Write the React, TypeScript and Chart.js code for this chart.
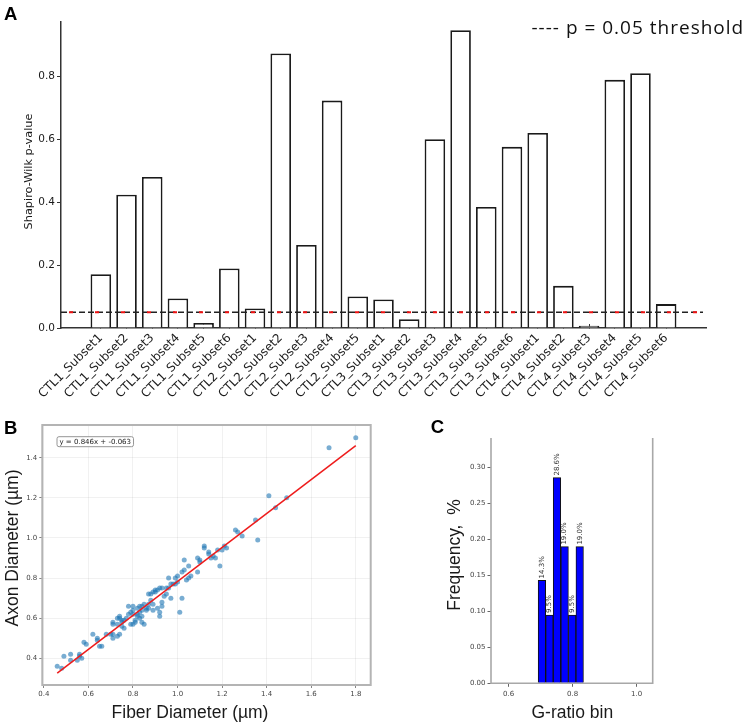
import { useEffect, useRef } from 'react';
import { Chart, registerables } from 'chart.js';

Chart.register(...registerables);

// ---- Panel A: Shapiro-Wilk normality test per subset ----
const SUBSETS = [
  'CTL1_Subset1', 'CTL1_Subset2', 'CTL1_Subset3', 'CTL1_Subset4', 'CTL1_Subset5', 'CTL1_Subset6',
  'CTL2_Subset1', 'CTL2_Subset2', 'CTL2_Subset3', 'CTL2_Subset4', 'CTL2_Subset5',
  'CTL3_Subset1', 'CTL3_Subset2', 'CTL3_Subset3', 'CTL3_Subset4', 'CTL3_Subset5', 'CTL3_Subset6',
  'CTL4_Subset1', 'CTL4_Subset2', 'CTL4_Subset3', 'CTL4_Subset4', 'CTL4_Subset5', 'CTL4_Subset6',
];
const P_VALUES = [
  0.171, 0.424, 0.48, 0.094, 0.016, 0.189,
  0.062, 0.873, 0.264, 0.723, 0.1,
  0.091, 0.028, 0.6, 0.947, 0.385, 0.576,
  0.62, 0.134, 0.007, 0.789, 0.81, 0.076,
];
const P_TICKS = [0, 0.2, 0.4, 0.6, 0.8];
const THRESHOLD = 0.05;

// ---- Panel B: axon vs fiber diameter ----
const FIBER_DIAMETER = [
  0.46, 0.48, 0.49, 0.52, 0.52, 0.55, 0.56, 0.56, 0.57, 0.58, 0.59, 0.62, 0.64, 0.64, 0.65, 0.66,
  0.68, 0.71, 0.71, 0.71, 0.71, 0.73, 0.74, 0.73, 0.74, 0.75, 0.75, 0.73, 0.75, 0.76, 0.77, 0.78,
  0.79, 0.8, 0.8, 0.79, 0.8, 0.81, 0.81, 0.82, 0.82, 0.83, 0.84, 0.84, 0.85, 0.84, 0.84, 0.85,
  0.86, 0.86, 0.87, 0.88, 0.87, 0.88, 0.89, 0.9, 0.91, 0.92, 0.93, 0.95, 0.89, 0.89, 0.91, 0.92,
  0.92, 0.93, 0.93, 0.95, 0.94, 0.96, 0.96, 0.97, 0.98, 0.99, 1.0, 1.01, 1.02, 0.97, 1.02, 1.03,
  1.03, 1.04, 1.05, 1.05, 1.06, 1.09, 1.09, 1.1, 1.1, 1.12, 1.12, 1.14, 1.14, 1.15, 1.16, 1.17,
  1.18, 1.19, 1.2, 1.21, 1.22, 1.26, 1.27, 1.29, 1.35, 1.36, 1.41, 1.44, 1.49, 1.68, 1.8,
  0.8, 0.82, 0.83, 0.78, 0.76, 0.74, 0.9, 0.99, 1.0, 0.87, 0.7, 0.83,
];
const AXON_DIAMETER = [
  0.36, 0.35, 0.41, 0.42, 0.39, 0.39, 0.42, 0.41, 0.4, 0.48, 0.47, 0.52, 0.5, 0.49, 0.46, 0.46,
  0.52, 0.5, 0.52, 0.58, 0.57, 0.51, 0.52, 0.6, 0.61, 0.59, 0.58, 0.57, 0.56, 0.55, 0.6, 0.66,
  0.63, 0.66, 0.62, 0.57, 0.57, 0.58, 0.59, 0.61, 0.62, 0.63, 0.64, 0.66, 0.67, 0.61, 0.58, 0.57,
  0.64, 0.65, 0.67, 0.69, 0.72, 0.72, 0.73, 0.74, 0.74, 0.75, 0.75, 0.75, 0.67, 0.64, 0.65, 0.63,
  0.61, 0.66, 0.68, 0.72, 0.71, 0.8, 0.75, 0.77, 0.77, 0.77, 0.81, 0.63, 0.7, 0.7, 0.83, 0.84,
  0.89, 0.79, 0.8, 0.86, 0.81, 0.83, 0.9, 0.88, 0.89, 0.96, 0.95, 0.93, 0.92, 0.9, 0.91, 0.9,
  0.94, 0.86, 0.94, 0.96, 0.95, 1.04, 1.03, 1.01, 1.09, 0.99, 1.21, 1.15, 1.2, 1.45, 1.5,
  0.64, 0.65, 0.6, 0.62, 0.59, 0.6, 0.73, 0.8, 0.78, 0.65, 0.52, 0.66,
];
const FIT_SLOPE = 0.846;
const FIT_INTERCEPT = -0.063;
const FIT_X = [0.46, 1.8];
const DIAM_X_TICKS = [0.4, 0.6, 0.8, 1.0, 1.2, 1.4, 1.6, 1.8];
const DIAM_Y_TICKS = [0.4, 0.6, 0.8, 1.0, 1.2, 1.4];

// ---- Panel C: g-ratio histogram ----
const GRATIO_BIN_EDGES = [0.692, 0.716, 0.739, 0.763, 0.787, 0.81, 0.834];
const GRATIO_FREQ = [0.143, 0.095, 0.286, 0.19, 0.095, 0.19];
const GRATIO_X_TICKS = [0.6, 0.8, 1.0];
const FREQ_TICKS = [0, 0.05, 0.1, 0.15, 0.2, 0.25, 0.3];

interface TextMark {
  text: string;
  x: number;
  y: number;
  size: number;
  family?: string;
  weight?: string;
  color?: string;
  angle?: number;
  align?: CanvasTextAlign;
  baseline?: CanvasTextBaseline;
  spacing?: number;
}

function textLayer(id: string, marks: TextMark[]) {
  return {
    id,
    afterDraw(chart: Chart) {
      const ctx = chart.ctx;
      for (const m of marks) {
        ctx.save();
        ctx.font = `${m.weight ?? 'normal'} ${m.size}px ${m.family ?? '"Liberation Sans"'}`;
        ctx.fillStyle = m.color ?? '#111';
        ctx.textAlign = m.align ?? 'center';
        ctx.textBaseline = m.baseline ?? 'middle';
        if (m.spacing) (ctx as any).letterSpacing = `${m.spacing}px`;
        ctx.translate(m.x, m.y);
        if (m.angle) ctx.rotate(m.angle);
        ctx.fillText(m.text, 0, 0);
        ctx.restore();
      }
    },
  };
}

const setTicks = (values: number[]) => (scale: any) => {
  scale.ticks = values.map((value) => ({ value }));
};

function makePanelA(canvas: HTMLCanvasElement) {
  const thresholdLine = {
    id: 'thresholdLine',
    afterDatasetsDraw(chart: Chart) {
      const { ctx, chartArea } = chart;
      const y = chart.scales.y.getPixelForValue(THRESHOLD);
      ctx.save();
      ctx.beginPath();
      ctx.moveTo(chartArea.left, y);
      ctx.lineTo(chartArea.right - 3, y);
      ctx.lineWidth = 1.5;
      ctx.strokeStyle = '#222';
      ctx.setLineDash([6, 3]);
      ctx.stroke();
      ctx.lineWidth = 2;
      ctx.strokeStyle = '#ee1111';
      ctx.setLineDash([4, 22]);
      ctx.lineDashOffset = -8;
      ctx.stroke();
      ctx.restore();
    },
  };
  return new Chart(canvas, {
    type: 'bar',
    data: {
      datasets: [
        {
          data: P_VALUES.map((p, i) => ({ x: i, y: p })),
          backgroundColor: '#ffffff',
          borderColor: '#1a1a1a',
          borderWidth: 1.8,
          barPercentage: 0.8,
          categoryPercentage: 1,
        },
      ],
    },
    options: {
      responsive: false,
      animation: false,
      layout: { padding: { left: 0, top: 22, right: 44, bottom: 0 } },
      plugins: { legend: { display: false }, tooltip: { enabled: false } },
      scales: {
        x: {
          type: 'linear',
          min: -1.55,
          max: 23.55,
          offset: false,
          afterBuildTicks: setTicks(SUBSETS.map((_, i) => i)),
          afterFit: (s: any) => {
            s.height = 102;
          },
          ticks: {
            autoSkip: false,
            minRotation: 45,
            maxRotation: 45,
            padding: 7,
            color: '#1a1a1a',
            font: { family: 'DejaVu Sans', size: 12 },
            callback: (v: any) => SUBSETS[Math.round(Number(v))] ?? '',
          },
          grid: { drawOnChartArea: false, offset: false, tickLength: -4, color: '#333', tickColor: '#333' },
          border: { color: '#333', width: 1.5 },
        },
        y: {
          min: 0,
          max: 0.973,
          afterBuildTicks: setTicks(P_TICKS),
          afterFit: (s: any) => {
            s.width = 61;
          },
          ticks: {
            padding: 2,
            color: '#1a1a1a',
            font: { family: 'DejaVu Sans', size: 10.5 },
            callback: (v: any) => Number(v).toFixed(1),
          },
          grid: { drawOnChartArea: false, tickLength: 4, color: '#333', tickColor: '#333' },
          border: { color: '#333', width: 1.5 },
        },
      },
    },
    plugins: [
      thresholdLine,
      textLayer('labelsA', [
        { text: 'A', x: 4, y: 20, size: 18.5, weight: 'bold', align: 'left', baseline: 'alphabetic', color: '#000' },
        {
          text: '---- p = 0.05 threshold',
          x: 531.5,
          y: 33.5,
          size: 19,
          family: '"Open Sans"',
          align: 'left',
          baseline: 'alphabetic',
          spacing: 1,
          color: '#111',
        },
        {
          text: 'Shapiro-Wilk p-value',
          x: 29,
          y: 171.5,
          size: 11.3,
          family: '"DejaVu Sans"',
          angle: -Math.PI / 2,
          color: '#1a1a1a',
        },
      ]),
    ],
  } as any);
}

function makePanelB(canvas: HTMLCanvasElement) {
  const frame = {
    id: 'frameB',
    afterDraw(chart: Chart) {
      const { ctx, chartArea } = chart;
      ctx.save();
      ctx.strokeStyle = '#b4b4b4';
      ctx.lineWidth = 2;
      ctx.strokeRect(chartArea.left, chartArea.top, chartArea.right - chartArea.left, chartArea.bottom - chartArea.top);
      // regression equation box
      const text = `y = ${FIT_SLOPE.toFixed(3)}x + ${FIT_INTERCEPT.toFixed(3)}`;
      ctx.font = '7px "DejaVu Sans"';
      const w = ctx.measureText(text).width;
      const bx = chartArea.left + 14.7;
      const by = chartArea.top + 11.7;
      ctx.beginPath();
      (ctx as any).roundRect(bx, by, w + 5, 10, 2);
      ctx.fillStyle = 'rgba(255,255,255,0.9)';
      ctx.fill();
      ctx.strokeStyle = '#8a8a8a';
      ctx.lineWidth = 0.9;
      ctx.stroke();
      ctx.fillStyle = '#222';
      ctx.textAlign = 'left';
      ctx.textBaseline = 'middle';
      ctx.fillText(text, bx + 2.5, by + 5.3);
      ctx.restore();
    },
  };
  const tickFont = { family: 'DejaVu Sans', size: 7 };
  return new Chart(canvas, {
    type: 'scatter',
    data: {
      datasets: [
        {
          data: FIT_X.map((x) => ({ x, y: FIT_SLOPE * x + FIT_INTERCEPT })),
          showLine: true,
          borderColor: '#ee1c1c',
          borderWidth: 1.5,
          pointRadius: 0,
          order: 0,
        },
        {
          data: FIBER_DIAMETER.map((x, i) => ({ x, y: AXON_DIAMETER[i] })),
          backgroundColor: 'rgba(31,119,180,0.6)',
          borderWidth: 0,
          pointRadius: 2.5,
          order: 1,
        },
      ],
    },
    options: {
      responsive: false,
      animation: false,
      layout: { padding: { left: 0, top: 20, right: 39.3, bottom: 0 } },
      plugins: { legend: { display: false }, tooltip: { enabled: false } },
      scales: {
        x: {
          type: 'linear',
          min: 0.393,
          max: 1.867,
          afterBuildTicks: setTicks(DIAM_X_TICKS),
          afterFit: (s: any) => {
            s.height = 40;
          },
          ticks: { font: tickFont, color: '#444', padding: 2, callback: (v: any) => Number(v).toFixed(1) },
          grid: { color: 'rgba(0,0,0,0.07)', lineWidth: 0.8, tickColor: '#666', tickLength: 3 },
          border: { display: false },
        },
        y: {
          type: 'linear',
          min: 0.267,
          max: 1.563,
          afterBuildTicks: setTicks(DIAM_Y_TICKS),
          afterFit: (s: any) => {
            s.width = 42.3;
          },
          ticks: { font: tickFont, color: '#444', padding: 2, callback: (v: any) => Number(v).toFixed(1) },
          grid: { color: 'rgba(0,0,0,0.07)', lineWidth: 0.8, tickColor: '#666', tickLength: 3 },
          border: { display: false },
        },
      },
    },
    plugins: [
      frame,
      textLayer('labelsB', [
        { text: 'B', x: 4, y: 28.5, size: 18.5, weight: 'bold', align: 'left', baseline: 'alphabetic', color: '#000' },
        { text: 'Axon Diameter (µm)', x: 13.5, y: 143, size: 17.5, angle: -Math.PI / 2, color: '#1a1a1a' },
        { text: 'Fiber Diameter (µm)', x: 190, y: 307.7, size: 17.5, color: '#1a1a1a' },
      ]),
    ],
  } as any);
}

function makePanelC(canvas: HTMLCanvasElement) {
  const spines = {
    id: 'spinesC',
    afterDraw(chart: Chart) {
      const { ctx, chartArea } = chart;
      ctx.save();
      ctx.strokeStyle = '#a8a8a8';
      ctx.lineWidth = 1.6;
      ctx.beginPath();
      ctx.moveTo(chartArea.left, chartArea.top);
      ctx.lineTo(chartArea.left, chartArea.bottom);
      ctx.lineTo(chartArea.right, chartArea.bottom);
      ctx.lineTo(chartArea.right, chartArea.top);
      ctx.stroke();
      ctx.restore();
    },
  };
  const valueLabels = {
    id: 'valueLabels',
    afterDatasetsDraw(chart: Chart) {
      const ctx = chart.ctx;
      const meta = chart.getDatasetMeta(0);
      ctx.save();
      ctx.font = '7px "DejaVu Sans"';
      ctx.fillStyle = '#333';
      ctx.textAlign = 'left';
      ctx.textBaseline = 'middle';
      meta.data.forEach((bar: any, i: number) => {
        const { x, y } = bar.getProps(['x', 'y'], true);
        ctx.save();
        ctx.translate(x, y - 2);
        ctx.rotate(-Math.PI / 2);
        ctx.fillText(`${(GRATIO_FREQ[i] * 100).toFixed(1)}%`, 0, 0);
        ctx.restore();
      });
      ctx.restore();
    },
  };
  const tickFont = { family: 'DejaVu Sans', size: 7 };
  return new Chart(canvas, {
    type: 'bar',
    data: {
      datasets: [
        {
          data: GRATIO_FREQ.map((f, i) => ({ x: (GRATIO_BIN_EDGES[i] + GRATIO_BIN_EDGES[i + 1]) / 2, y: f })),
          backgroundColor: '#0000ff',
          borderColor: '#111',
          borderWidth: 1,
          barPercentage: 1,
          categoryPercentage: 1,
        },
      ],
    },
    options: {
      responsive: false,
      animation: false,
      layout: { padding: { left: 0, top: 33, right: 97.3, bottom: 0 } },
      plugins: { legend: { display: false }, tooltip: { enabled: false } },
      scales: {
        x: {
          type: 'linear',
          min: 0.545,
          max: 1.05,
          offset: false,
          afterBuildTicks: setTicks(GRATIO_X_TICKS),
          afterFit: (s: any) => {
            s.height = 41.7;
          },
          ticks: { font: tickFont, color: '#444', padding: 3, callback: (v: any) => Number(v).toFixed(1) },
          grid: { drawOnChartArea: false, offset: false, tickColor: '#666', tickLength: 3.5 },
          border: { display: false },
        },
        y: {
          min: 0,
          max: 0.341,
          afterBuildTicks: setTicks(FREQ_TICKS),
          afterFit: (s: any) => {
            s.width = 81;
          },
          ticks: { font: tickFont, color: '#444', padding: 2, callback: (v: any) => Number(v).toFixed(2) },
          grid: { drawOnChartArea: false, tickColor: '#666', tickLength: 3.5 },
          border: { display: false },
        },
      },
    },
    plugins: [
      spines,
      valueLabels,
      textLayer('labelsC', [
        { text: 'C', x: 20.7, y: 28, size: 18.5, weight: 'bold', align: 'left', baseline: 'alphabetic', color: '#000' },
        { text: 'Frequency,  %', x: 45.5, y: 150, size: 17.5, angle: -Math.PI / 2, color: '#1a1a1a' },
        { text: 'G-ratio bin', x: 162.3, y: 307.7, size: 17.5, color: '#1a1a1a' },
      ]),
    ],
  } as any);
}

export default function App() {
  const aRef = useRef<HTMLCanvasElement>(null);
  const bRef = useRef<HTMLCanvasElement>(null);
  const cRef = useRef<HTMLCanvasElement>(null);

  useEffect(() => {
    const charts = [makePanelA(aRef.current!), makePanelB(bRef.current!), makePanelC(cRef.current!)];
    return () => charts.forEach((c) => c.destroy());
  }, []);

  return (
    <div style={{ position: 'absolute', left: 0, top: 0, width: 750, height: 725, background: '#fff', overflow: 'hidden' }}>
      <canvas ref={aRef} width={750} height={430} style={{ position: 'absolute', left: 0, top: 0 }} />
      <canvas ref={bRef} width={410} height={320} style={{ position: 'absolute', left: 0, top: 405 }} />
      <canvas ref={cRef} width={340} height={320} style={{ position: 'absolute', left: 410, top: 405 }} />
    </div>
  );
}
